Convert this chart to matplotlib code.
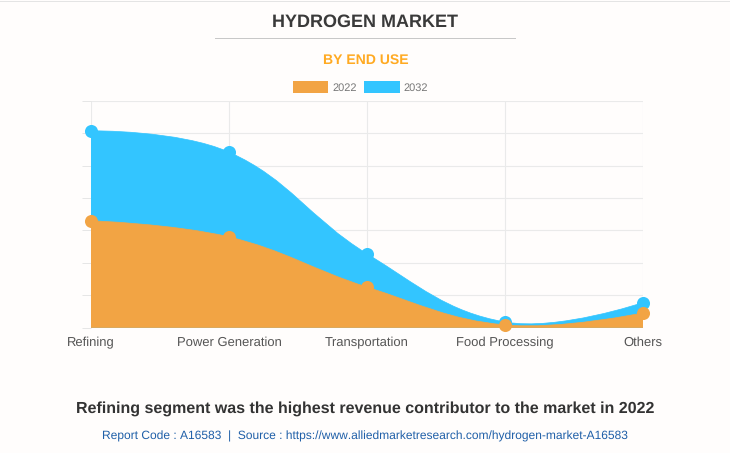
import matplotlib.pyplot as plt
from matplotlib.patches import PathPatch, Patch
from matplotlib.path import Path
import numpy as np

categories = ["Refining", "Power Generation", "Transportation", "Food Processing", "Others"]
values_2022 = [33, 28, 12.5, 0.8, 4.5]
values_2032 = [60.8, 54.2, 22.8, 1.7, 7.7]

W, H = 730, 453
BLUE = "#33C5FF"
ORANGE = "#F2A444"


# same bezier spline chart.js uses (tension 0.4), worked out in pixels
def spline_path(ax, ys, tension=0.4):
    pts = ax.transData.transform(np.column_stack([range(len(ys)), ys]))
    verts = [pts[0]]
    codes = [Path.MOVETO]
    n = len(pts)
    for i in range(n - 1):
        p0, p1 = pts[i], pts[i + 1]
        if i == 0:
            c1 = p0
        else:
            prev = pts[i - 1]
            d01 = np.hypot(*(p0 - prev))
            d12 = np.hypot(*(p1 - p0))
            c1 = p0 + tension * d12 / (d01 + d12) * (p1 - prev)
        if i == n - 2:
            c2 = p1
        else:
            nxt = pts[i + 2]
            d01 = np.hypot(*(p1 - p0))
            d12 = np.hypot(*(nxt - p1))
            c2 = p1 - tension * d01 / (d01 + d12) * (nxt - p0)
        verts += [c1, c2, p1]
        codes += [Path.CURVE4] * 3
    verts = list(ax.transData.inverted().transform(np.array(verts)))
    verts += [(n - 1, 0), (0, 0), (0, ys[0])]
    codes += [Path.LINETO, Path.LINETO, Path.CLOSEPOLY]
    return Path(verts, codes)


plt.rcParams["font.family"] = ["Liberation Sans", "DejaVu Sans"]
plt.rcParams["text.hinting"] = "none"
plt.rcParams["text.hinting_factor"] = 1

fig = plt.figure(figsize=(W / 100, H / 100), dpi=100, facecolor="#FFFDFC")
ax = fig.add_axes([91 / W, 1 - 327.5 / H, (643 - 91) / W, (327.5 - 101) / H])
ax.set_facecolor("none")
ax.set_xlim(0, 4)
ax.set_ylim(0, 70)
ax.set_xticks(range(5))
ax.set_xticklabels(categories, fontsize=9, color="#555555")
ax.set_yticks(range(0, 80, 10))
ax.set_yticklabels([])
ax.tick_params(axis="x", length=0, pad=6.5)
ax.tick_params(axis="y", length=6.5, color="#E6E6E6", width=0.72)
ax.grid(True, color="#EAEAEA", linewidth=0.8)
ax.set_axisbelow(True)
for s in ax.spines.values():
    s.set_visible(False)
ax.axhline(0, color="#D5D5D5", linewidth=0.8, zorder=0.5)

for ys, col, z in [(values_2032, BLUE, 2), (values_2022, ORANGE, 3)]:
    ax.add_patch(PathPatch(spline_path(ax, ys), facecolor=col, edgecolor=col, linewidth=0.5, zorder=z))
    ax.plot(range(5), ys, "o", color=col, markersize=9.4, markeredgewidth=0, clip_on=False, zorder=z + 0.5)

handles = [Patch(facecolor=ORANGE, label="2022"), Patch(facecolor=BLUE, label="2032")]
leg = fig.legend(handles=handles, loc="center", bbox_to_anchor=(360.5 / W, 1 - 87 / H), ncol=2, frameon=False,
                 fontsize=7.8, handlelength=3.3, handleheight=1.25, handletextpad=0.38, columnspacing=0.65,
                 labelcolor="#777777")

fig.text(365 / W, 1 - 22.5 / H, "HYDROGEN MARKET", ha="center", va="center", fontsize=12.72,
         fontweight="bold", color="#3A3A3A")
fig.add_artist(plt.Line2D([215 / W, 515 / W], [1 - 37.5 / H] * 2, color="#C8C8C8", linewidth=0.72))
fig.text(365.5 / W, 1 - 60.5 / H, "BY END USE", ha="center", va="center", fontsize=10,
         fontweight="bold", color="#FFAA22")
fig.text(365 / W, 1 - 409 / H, "Refining segment was the highest revenue contributor to the market in 2022",
         ha="center", va="center", fontsize=11.5, fontweight="bold", color="#333333")
fig.text(365 / W, 1 - 436 / H, "Report Code : A16583  |  Source : https://www.alliedmarketresearch.com/hydrogen-market-A16583",
         ha="center", va="center", fontsize=8.65, color="#1F5FA8")
fig.add_artist(plt.Line2D([0, 1], [1 - 0.5 / H] * 2, color="#E4E4E4", linewidth=0.72))

fig.savefig("out.png", dpi=100, facecolor=fig.get_facecolor())
